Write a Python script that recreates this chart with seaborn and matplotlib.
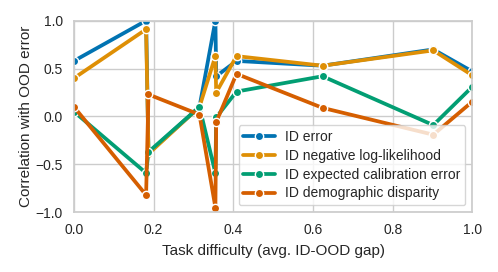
import pandas as pd
import numpy as np
import matplotlib
matplotlib.use('Agg')
import matplotlib.pyplot as plt
import seaborn as sns

# task difficulty (avg. ID-OOD gap) per task
x_vals = [0.0, 0.181, 0.187, 0.315, 0.355, 0.357, 0.408, 0.624, 0.902, 1.0]
# correlation of each ID metric with OOD error
id_error = [0.58, 1.0, -0.38, 0.10, 1.0, 0.42, 0.58, 0.53, 0.70, 0.47]
id_nll = [0.40, 0.91, -0.39, 0.10, 0.63, 0.25, 0.63, 0.53, 0.69, 0.43]
id_ece = [0.05, -0.59, -0.37, 0.10, -0.59, -0.01, 0.26, 0.42, -0.09, 0.31]
id_dd = [0.10, -0.82, 0.23, 0.02, -0.95, -0.06, 0.445, 0.09, -0.19, 0.155]
metric_names = ['ID error', 'ID negative log-likelihood',
                'ID expected calibration error', 'ID demographic disparity']

rows = []
for name, vals in zip(metric_names, [id_error, id_nll, id_ece, id_dd]):
    for x, v in zip(x_vals, vals):
        rows.append({'difficulty': x, 'corr': v, 'metric': name})
df = pd.DataFrame(rows)

sns.set_theme(style='whitegrid')
plt.rcParams['font.family'] = ['Liberation Sans', 'DejaVu Sans']

fig = plt.figure(figsize=(4.98, 2.72), dpi=100)
ax = fig.add_axes([0.1486, 0.2195, 0.7998, 0.7045])
sns.lineplot(data=df, x='difficulty', y='corr', hue='metric', hue_order=metric_names,
             palette='colorblind', marker='o', markersize=6, markeredgecolor='white',
             markeredgewidth=1, linewidth=2.7, ax=ax)

ax.set_xlim(0, 1)
ax.set_ylim(-1, 1)
ax.set_xticks(np.arange(0, 1.01, 0.2))
ax.set_yticks(np.arange(-1, 1.01, 0.5))
ax.tick_params(labelsize=10, pad=2)
ax.set_xlabel('Task difficulty (avg. ID-OOD gap)', fontsize=11, labelpad=4.5)
ax.set_ylabel('Correlation with OOD error', fontsize=11, labelpad=1.5)
ax.legend(loc='lower right', fontsize=10, title=None, handlelength=2.3,
          handletextpad=0.7, borderpad=0.35, labelspacing=0.35)

fig.savefig('out.png', dpi=100)
